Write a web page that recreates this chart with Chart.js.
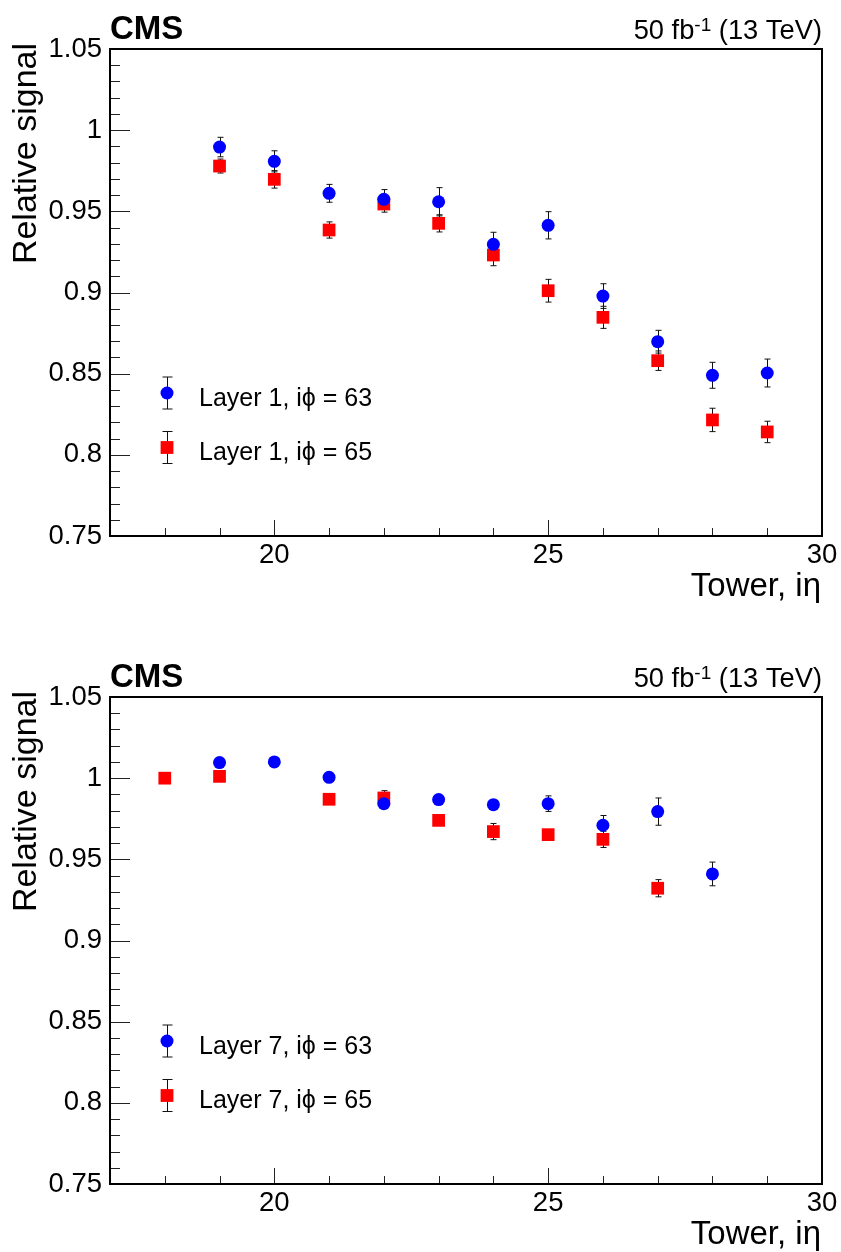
<!DOCTYPE html>
<html><head><meta charset="utf-8">
<script src="https://cdn.jsdelivr.net/npm/chart.js@4/dist/chart.umd.min.js"></script>
<style>html,body{margin:0;padding:0;background:#fff;}canvas{display:block;}</style>
</head><body>
<canvas id="c1" width="841" height="648"></canvas>
<canvas id="c2" width="841" height="604"></canvas>
<script>
// ---------- data ----------
const towersTop = [19, 20, 21, 22, 23, 24, 25, 26, 27, 28, 29];
const layer1Phi63 = [0.9896, 0.9808, 0.9611, 0.9574, 0.9559, 0.9297, 0.9414, 0.8978, 0.8697, 0.8490, 0.8504];
const layer1Phi63Err = [0.0060, 0.0065, 0.0055, 0.0060, 0.0087, 0.0074, 0.0084, 0.0076, 0.0070, 0.0080, 0.0086];
const layer1Phi65 = [0.9779, 0.9697, 0.9385, 0.9545, 0.9426, 0.9231, 0.9011, 0.8847, 0.8580, 0.8215, 0.8141];
const layer1Phi65Err = [0.0043, 0.0054, 0.0050, 0.0050, 0.0053, 0.0066, 0.0070, 0.0068, 0.0060, 0.0072, 0.0066];

const towersL7Phi63 = [19, 20, 21, 22, 23, 24, 25, 26, 27, 28];
const layer7Phi63 = [1.0096, 1.0100, 1.0005, 0.9843, 0.9868, 0.9837, 0.9843, 0.9710, 0.9794, 0.9410];
const layer7Phi63Err = [0.0020, 0.0020, 0.0020, 0.0020, 0.0020, 0.0020, 0.0048, 0.0060, 0.0084, 0.0073];
const towersL7Phi65 = [18, 19, 21, 22, 23, 24, 25, 26, 27];
const layer7Phi65 = [1.0000, 1.0011, 0.9870, 0.9878, 0.9740, 0.9671, 0.9652, 0.9623, 0.9322];
const layer7Phi65Err = [0.0010, 0.0020, 0.0020, 0.0045, 0.0020, 0.0050, 0.0020, 0.0050, 0.0053];

const xTickValues = [20, 25, 30];
const xTickLabels = ['20', '25', '30'];
const yTickValues = [0.75, 0.8, 0.85, 0.9, 0.95, 1, 1.05];
const yTickLabels = ['0.75', '0.8', '0.85', '0.9', '0.95', '1', '1.05'];
const xRange = [17, 30];
const yRange = [0.75, 1.05];

const labelsTop = ['Layer 1, i\u03D5 = 63', 'Layer 1, i\u03D5 = 65'];
const labelsBottom = ['Layer 7, i\u03D5 = 63', 'Layer 7, i\u03D5 = 65'];
const cmsText = 'CMS';
const yTitle = 'Relative signal';
const xTitle = 'Tower, i\u03B7';

// ---------- styling ----------
const FONT = '"Liberation Sans", Arial, Helvetica, sans-serif';
const BLUE = '#0000ff';
const RED = '#ff0000';

function pts(xs, ys) { return xs.map((x, i) => ({ x: x, y: ys[i] })); }

const rootPlugin = {
  id: 'rootStyle',
  beforeDatasetsDraw(chart) {
    const ctx = chart.ctx, xs = chart.scales.x, ys = chart.scales.y;
    ctx.save();
    ctx.strokeStyle = '#111';
    ctx.lineWidth = 1;
    chart.data.datasets.forEach(ds => {
      ds.data.forEach((p, i) => {
        const e = ds.errors[i];
        const px = Math.round(xs.getPixelForValue(p.x)) + 0.5;
        const y1 = ys.getPixelForValue(p.y + e), y2 = ys.getPixelForValue(p.y - e);
        ctx.beginPath();
        ctx.moveTo(px, y1); ctx.lineTo(px, y2);
        ctx.moveTo(px - 3, y1); ctx.lineTo(px + 3, y1);
        ctx.moveTo(px - 3, y2); ctx.lineTo(px + 3, y2);
        ctx.stroke();
      });
    });
    ctx.restore();
  },
  afterDraw(chart) {
    const ctx = chart.ctx, a = chart.chartArea, xs = chart.scales.x, ys = chart.scales.y;
    ctx.save();
    // ticks inside
    ctx.strokeStyle = '#222';
    ctx.lineWidth = 1;
    ctx.beginPath();
    for (let v = Math.ceil(xRange[0]); v <= xRange[1]; v++) {
      const px = Math.round(xs.getPixelForValue(v)) + 0.5;
      const len = xTickValues.includes(v) ? 16 : 8;
      ctx.moveTo(px, a.bottom); ctx.lineTo(px, a.bottom - len);
    }
    for (let k = 75; k <= 105; k++) {
      const v = k / 100;
      const py = Math.round(ys.getPixelForValue(v)) + 0.5;
      const len = (k % 5 === 0) ? 20 : 10;
      ctx.moveTo(a.left, py); ctx.lineTo(a.left + len, py);
    }
    ctx.stroke();
    // frame
    ctx.strokeStyle = '#000';
    ctx.lineWidth = 2;
    ctx.strokeRect(a.left, a.top, a.right - a.left, a.bottom - a.top);

    ctx.fillStyle = '#000';
    // CMS
    ctx.font = 'bold 33px ' + FONT;
    ctx.textAlign = 'left'; ctx.textBaseline = 'alphabetic';
    ctx.fillText(cmsText, a.left, a.top - 10);
    // lumi
    const base = a.top - 10;
    ctx.font = '27.3px ' + FONT;
    ctx.textAlign = 'right';
    const part3 = ' (13 TeV)';
    ctx.fillText(part3, a.right, base);
    let xr = a.right - ctx.measureText(part3).width;
    ctx.font = '19px ' + FONT;
    ctx.fillText('-1', xr, base - 8);
    xr -= ctx.measureText('-1').width;
    ctx.font = '27.3px ' + FONT;
    ctx.fillText('50 fb', xr, base);
    // axis titles
    ctx.font = '33px ' + FONT;
    ctx.textAlign = 'right';
    ctx.fillText(xTitle, a.right - 1, a.bottom + 59.5);
    ctx.save();
    ctx.font = '34px ' + FONT;
    ctx.translate(36, a.top - 6);
    ctx.rotate(-Math.PI / 2);
    ctx.fillText(yTitle, 0, 0);
    ctx.restore();
    // legend
    const lx = a.left + 57;
    const rows = [a.top + 344, a.top + 398.5];
    chart.data.datasets.forEach((ds, i) => {
      const ly = rows[i];
      ctx.strokeStyle = '#111'; ctx.lineWidth = 1;
      ctx.beginPath();
      const cx = Math.round(lx) + 0.5;
      ctx.moveTo(cx, ly - 16); ctx.lineTo(cx, ly + 16);
      ctx.moveTo(cx - 5, ly - 16); ctx.lineTo(cx + 5, ly - 16);
      ctx.moveTo(cx - 5, ly + 16); ctx.lineTo(cx + 5, ly + 16);
      ctx.stroke();
      ctx.fillStyle = ds.backgroundColor;
      ctx.beginPath();
      if (ds.pointStyle === 'circle') { ctx.arc(lx, ly, 6.5, 0, Math.PI * 2); }
      else { ctx.rect(lx - 6.4, ly - 6.4, 12.8, 12.8); }
      ctx.fill();
      ctx.fillStyle = '#000';
      ctx.font = '25px ' + FONT;
      ctx.textAlign = 'left';
      ctx.fillText(ds.label, a.left + 89, ly + 12.5);
    });
    ctx.restore();
  }
};

function makeChart(id, canvasH, sets) {
  return new Chart(document.getElementById(id), {
    type: 'scatter',
    data: {
      datasets: sets.map(s => ({
        label: s.label,
        data: pts(s.x, s.y),
        errors: s.err,
        pointStyle: s.style,
        pointRadius: s.style === 'circle' ? 6.5 : 9,
        pointHoverRadius: s.style === 'circle' ? 6.5 : 9,
        backgroundColor: s.color,
        pointBackgroundColor: s.color,
        pointBorderWidth: 0,
        borderWidth: 0,
        showLine: false
      }))
    },
    plugins: [rootPlugin],
    options: {
      responsive: false,
      animation: false,
      events: [],
      layout: { padding: { top: 49, right: 19, left: 0, bottom: canvasH - 536 - 60 } },
      plugins: {
        legend: { display: false },
        tooltip: { enabled: false }
      },
      scales: {
        x: {
          type: 'linear', min: xRange[0], max: xRange[1],
          grid: { display: false, drawTicks: false, tickLength: 0 },
          border: { display: false },
          afterBuildTicks: sc => { sc.ticks = xTickValues.map(v => ({ value: v })); },
          afterFit: sc => { sc.height = 60; },
          ticks: {
            color: '#000', padding: 3, maxRotation: 0, autoSkip: false,
            font: { family: FONT, size: 27.5 },
            callback: (v, i) => xTickLabels[i]
          }
        },
        y: {
          type: 'linear', min: yRange[0], max: yRange[1],
          grid: { display: false, drawTicks: false, tickLength: 0 },
          border: { display: false },
          afterBuildTicks: sc => { sc.ticks = yTickValues.map(v => ({ value: v })); },
          afterFit: sc => { sc.width = 110; },
          ticks: {
            color: '#000', padding: 8, autoSkip: false,
            font: { family: FONT, size: 27.5 },
            callback: (v, i) => yTickLabels[i]
          }
        }
      }
    }
  });
}

makeChart('c1', 648, [
  { label: labelsTop[0], x: towersTop, y: layer1Phi63, err: layer1Phi63Err, style: 'circle', color: BLUE },
  { label: labelsTop[1], x: towersTop, y: layer1Phi65, err: layer1Phi65Err, style: 'rect', color: RED }
]);
makeChart('c2', 604, [
  { label: labelsBottom[0], x: towersL7Phi63, y: layer7Phi63, err: layer7Phi63Err, style: 'circle', color: BLUE },
  { label: labelsBottom[1], x: towersL7Phi65, y: layer7Phi65, err: layer7Phi65Err, style: 'rect', color: RED }
]);
</script>
</body></html>
